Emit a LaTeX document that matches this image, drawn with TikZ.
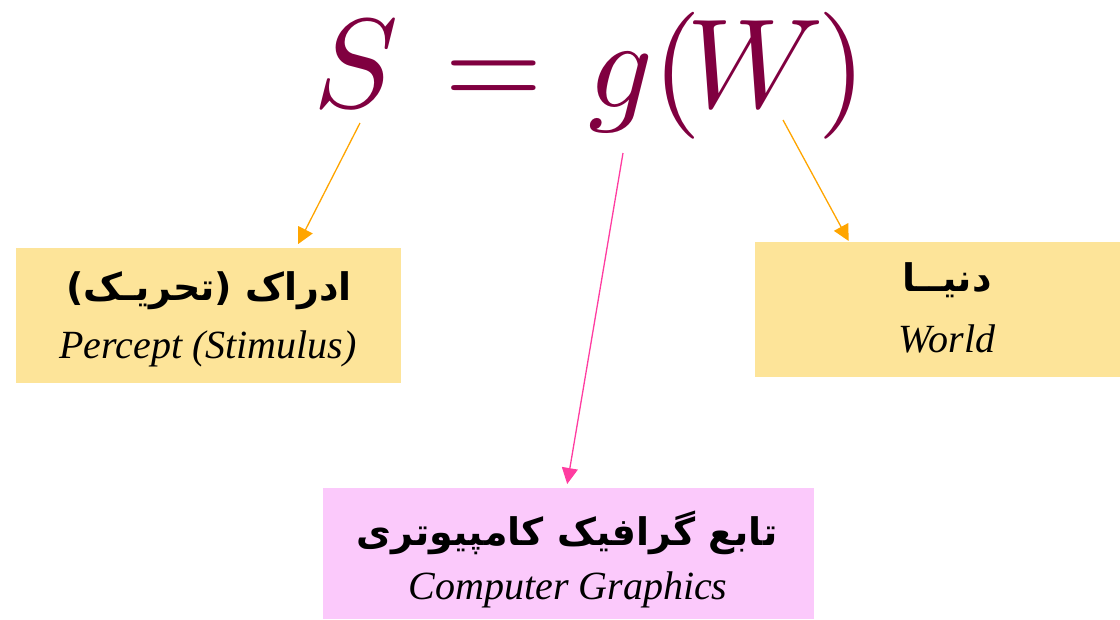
\documentclass[tikz,border=0pt]{standalone}
\usepackage[no-math]{fontspec}
\setmainfont{Liberation Serif}
\newfontfamily\arabicfont[Script=Arabic]{DejaVu Sans}
\TeXXeTstate=1
\usetikzlibrary{arrows.meta}
\definecolor{eqcol}{RGB}{128,0,64}
\definecolor{boxyellow}{RGB}{253,228,153}
\definecolor{boxpink}{RGB}{251,201,251}
\definecolor{arrorange}{RGB}{255,165,0}
\definecolor{arrpink}{RGB}{255,60,160}
\tikzset{
  eq/.style={text=eqcol, inner sep=0pt, scale=12.7, anchor=base},
  ybox/.style={fill=boxyellow, draw=none, inner sep=0pt, anchor=north west},
  pbox/.style={fill=boxpink, draw=none, inner sep=0pt, anchor=north west},
  artext/.style={inner sep=0pt, anchor=base, font=\fontsize{38}{46}\arabicfont\bfseries},
  latext/.style={inner sep=0pt, anchor=base, font=\fontsize{40}{48}\selectfont\itshape},
  oarr/.style={draw=arrorange, line width=1.3pt, -{Triangle[length=16pt,width=16pt]}},
  parr/.style={draw=arrpink, line width=1.3pt, -{Triangle[length=16pt,width=16pt]}}
}
\begin{document}
\begin{tikzpicture}[x=1pt,y=-1pt]
\useasboundingbox (0,0) rectangle (1120,619);
% formula
\node[eq] (S) at (356,107) {$S$};
\node[eq] (eqs) at (494,107) {$=$};
\node[eq] (g) at (621,107) {$g$};
\node[eq] (lp) at (677,107) {$($};
\node[eq] (W) at (755,107) {$W$};
\node[eq] (rp) at (842.5,107) {$)$};
\coordinate (sTail) at (360,123);
\coordinate (gTail) at (623,153);
\coordinate (wTail) at (783,120);
% boxes
\node[ybox, minimum width=385pt, minimum height=135pt] (left) at (16,248) {};
\node[ybox, minimum width=366pt, minimum height=135pt] (right) at (755,242) {};
\node[pbox, minimum width=491pt, minimum height=131pt] (bottom) at (323,488) {};
% texts
\node[artext] (leftAr) at (209,300) {\beginR ادراک (تحریـک)\endR};
\node[latext] (leftLa) at (208,358) {Percept (Stimulus)};
\node[artext] (rightAr) at (947,291) {\beginR دنیــا\endR};
\node[latext] (rightLa) at (947,352) {World};
\node[artext] (bottomAr) at (567,545) {\beginR تابع گرافیک کامپیوتری\endR};
\node[latext] (bottomLa) at (568,599) {Computer Graphics};
% connectors
\draw[oarr] (sTail) -- ([xshift=89.5pt,yshift=4pt]left.north);
\draw[parr] (gTail) -- ([xshift=-1.5pt,yshift=4pt]bottom.north);
\draw[oarr] (wTail) -- ([xshift=-89.5pt,yshift=1pt]right.north);
\end{tikzpicture}
\end{document}
